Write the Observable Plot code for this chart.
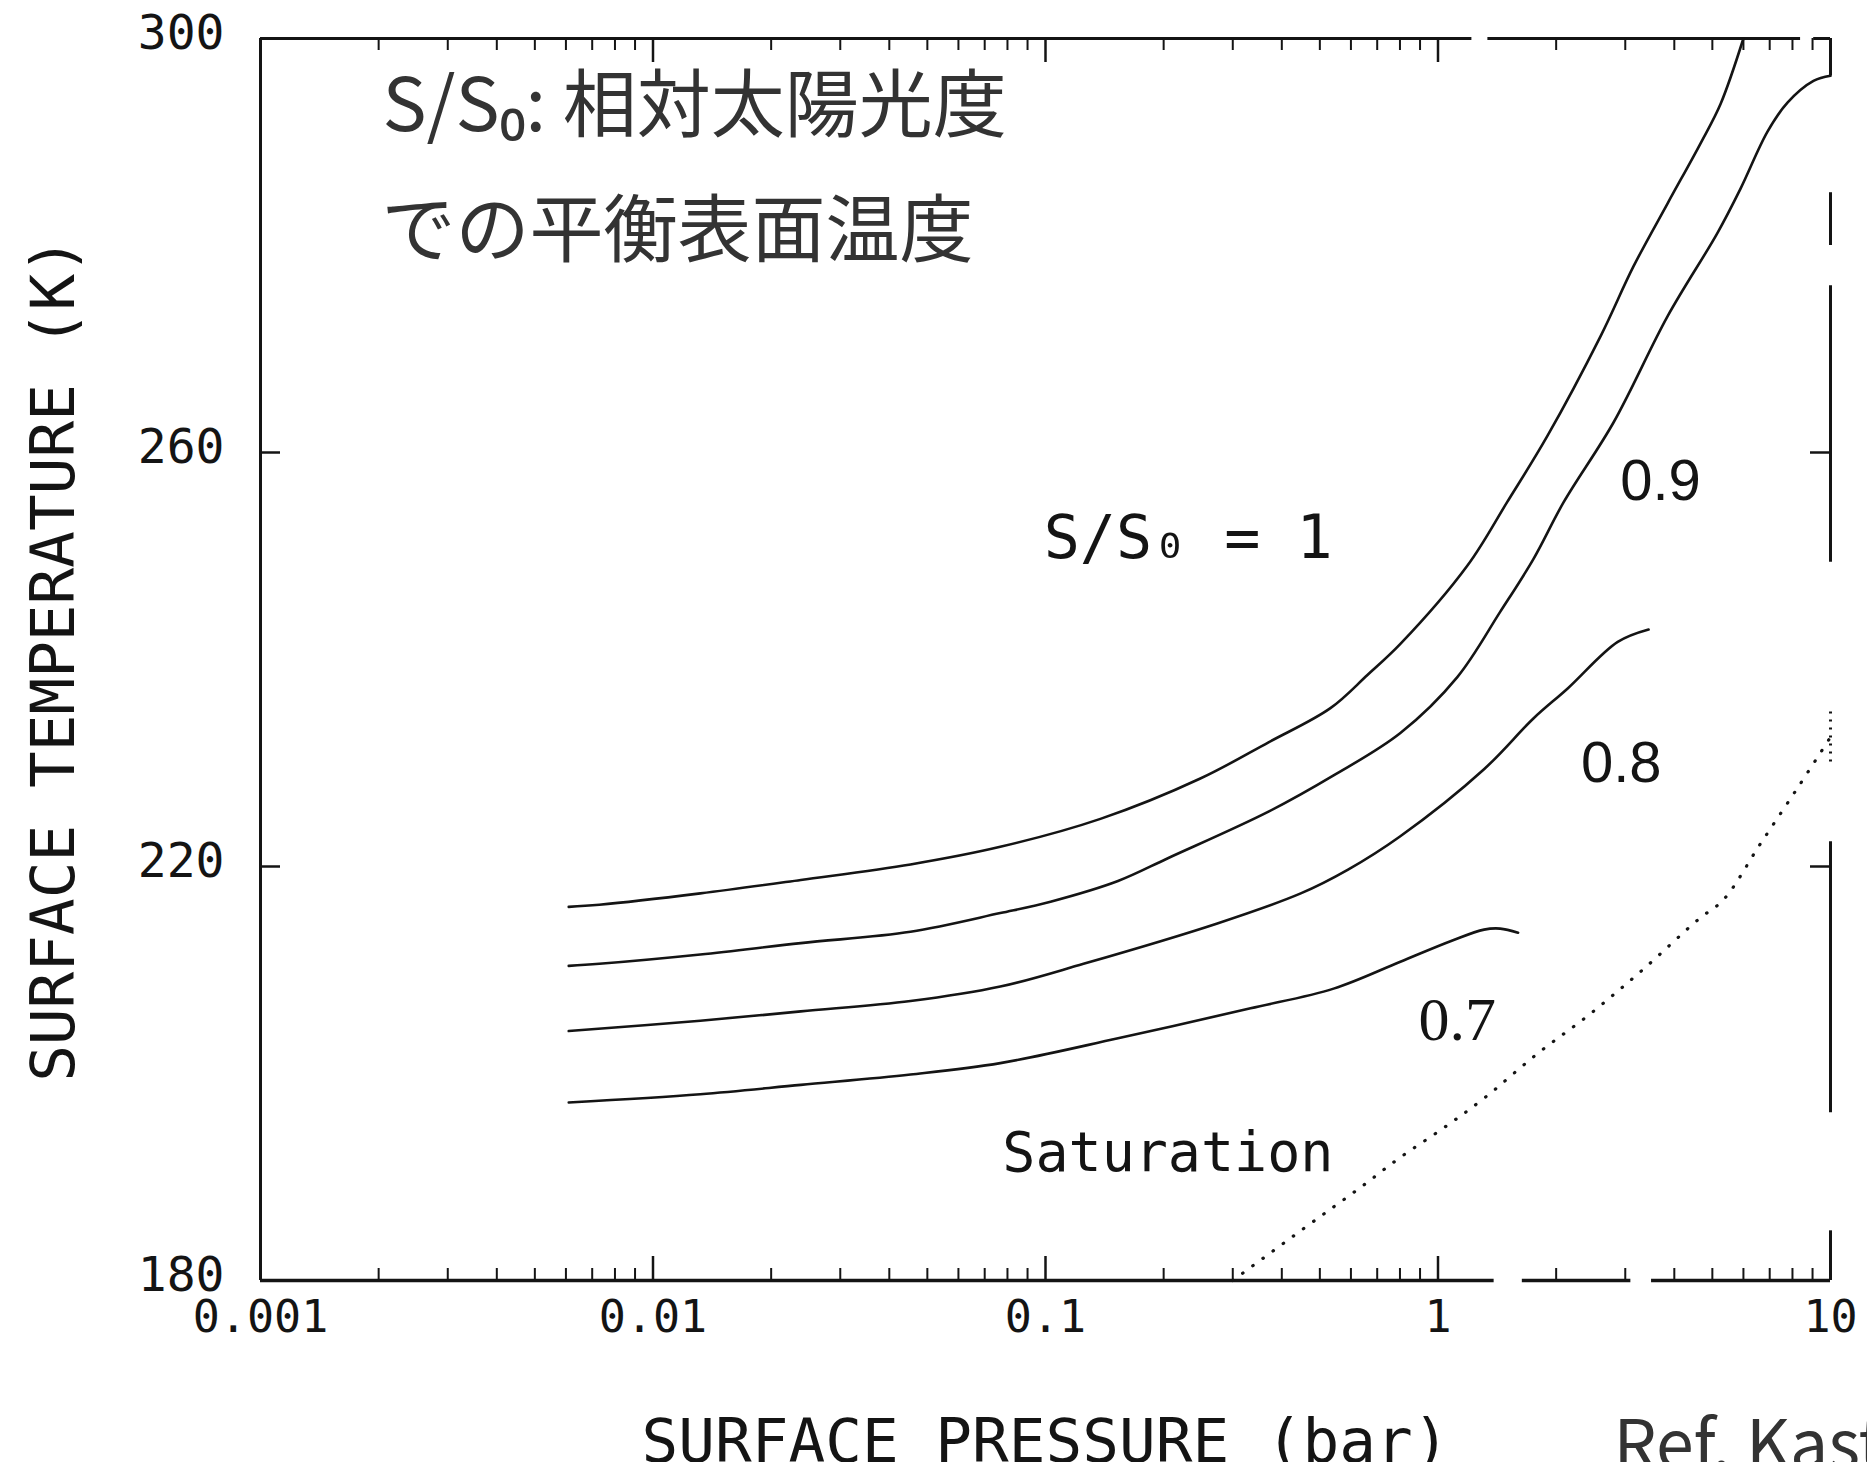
<!DOCTYPE html>
<html>
<head>
<meta charset="utf-8">
<script src="https://cdn.jsdelivr.net/npm/d3@7"></script>
<script src="https://cdn.jsdelivr.net/npm/@observablehq/plot@0.6"></script>
<style>
  html, body { margin: 0; padding: 0; background: #fff; overflow: hidden; }
  svg { display: block; }
</style>
</head>
<body>
<script>
// Relative solar luminosity S/S0 for each equilibrium curve
const solarLevels = [1, 0.9, 0.8, 0.7];

// Surface pressure (bar) and equilibrium surface temperature (K) along each curve
const pressureS10 = [0.0061, 0.0073, 0.0132, 0.0238, 0.0453, 0.0767, 0.138, 0.248, 0.37, 0.532, 0.661, 0.802, 1.19, 1.50, 1.90, 2.60, 3.15, 3.85, 4.67, 5.25, 6.0];
const tempS10     = [216.1, 216.3, 217.4, 218.7, 220.2, 221.9, 224.6, 228.5, 232.0, 235.3, 238.5, 241.5, 249.1, 255.2, 261.6, 271.3, 278.0, 284.1, 289.9, 293.7, 300.0];

const pressureS09 = [0.0061, 0.0073, 0.0132, 0.0238, 0.0453, 0.0767, 0.103, 0.153, 0.205, 0.37, 0.542, 0.802, 1.12, 1.44, 1.75, 2.09, 2.80, 3.85, 5.15, 5.90, 6.91, 7.77, 9.05, 10];
const tempS09     = [210.4, 210.6, 211.5, 212.6, 213.7, 215.5, 216.6, 218.6, 220.8, 225.3, 228.8, 232.9, 238.3, 244.6, 249.7, 255.2, 262.9, 273.2, 281.2, 285.5, 291.0, 293.8, 295.9, 296.4];

const pressureS08 = [0.0061, 0.0132, 0.0238, 0.0453, 0.0767, 0.125, 0.274, 0.447, 0.59, 0.80, 1.31, 1.75, 2.14, 2.87, 3.44];
const tempS08     = [204.1, 205.1, 206.0, 207.0, 208.4, 210.6, 214.5, 217.4, 219.7, 222.9, 229.4, 234.3, 237.2, 241.7, 242.9];

const pressureS07 = [0.0061, 0.0132, 0.0238, 0.0453, 0.0767, 0.153, 0.333, 0.542, 0.802, 1.08, 1.31, 1.44, 1.60];
const tempS07     = [197.2, 198.0, 198.9, 199.9, 201.0, 203.4, 206.3, 208.2, 210.8, 212.8, 213.9, 214.0, 213.6];

// CO2 saturation (condensation) curve
const saturationPressure = [0.30, 0.454, 0.635, 0.802, 1.03, 1.31, 1.79, 2.45, 3.34, 4.61, 5.34, 6.63, 8.28, 10];
const saturationTemp     = [180, 185.0, 189.0, 191.9, 194.7, 197.6, 201.9, 205.8, 210.1, 214.9, 216.8, 222.2, 227.7, 232.5];

// Axis ticks
const xTickValues = [0.001, 0.01, 0.1, 1, 10];
const yTickValues = [180, 220, 260, 300];

// Where each curve's S/S0 value is written
const curveLabelPressure = [0.231, 3.69, 2.93, 1.12];
const curveLabelTemp     = [251.7, 257.2, 230.0, 205.2];

// ---------------------------------------------------------------------------
const pressures = [pressureS10, pressureS09, pressureS08, pressureS07];
const temps = [tempS10, tempS09, tempS08, tempS07];

const curves = solarLevels.flatMap((s, i) =>
  pressures[i].map((p, j) => ({s, p, t: temps[i][j]}))
);
const saturation = saturationPressure.map((p, j) => ({p, t: saturationTemp[j]}));
const curveLabels = solarLevels.map((s, i) => ({
  s, p: curveLabelPressure[i], t: curveLabelTemp[i],
  text: s === 1 ? "S/S\u2080 = 1" : String(s)
}));

// log-decade minor ticks (2..9 within each decade)
const majorInner = xTickValues.slice(1, -1);
const minorInner = xTickValues.slice(0, -1).flatMap(d => d3.range(2, 10).map(k => d * k));
const yInner = yTickValues.slice(1, -1);

const width = 1867, height = 1462;
const margin = {left: 260, right: 37, top: 38, bottom: 182};
const frameW = width - margin.left - margin.right;
const frameH = height - margin.top - margin.bottom;

const ink = "#141414";
const mono = "'DejaVu Sans Mono', monospace";
const jp = "'Noto Sans CJK JP', 'Noto Sans', sans-serif";

// Scanned plot frame: short breaks along the bottom, top and right edges
const bottomEdge = [[0.001, 1.39], [1.64, 3.1], [3.5, 10]];
const topEdge = [[0.001, 1.22], [1.34, 8.39], [9.06, 10]];
const rightEdge = [[296.4, 300], [280.0, 285.1], [249.4, 276.1], [196.2, 222.4], [180, 184.8]];
const rightEdgeDotted = [[230.1, 235.4]];

const chart = Plot.plot({
  width, height,
  marginLeft: margin.left, marginRight: margin.right,
  marginTop: margin.top, marginBottom: margin.bottom,
  x: {type: "log", domain: [0.001, 10]},
  y: {domain: [180, 300]},
  style: {fontFamily: mono, background: "#fff", color: ink, overflow: "visible"},
  marks: [
    // frame
    Plot.ruleX([0.001], {y1: 180, y2: 300, stroke: ink, strokeWidth: 3}),
    Plot.ruleY(bottomEdge, {y: () => 180, x1: d => d[0], x2: d => d[1], stroke: ink, strokeWidth: 3.5}),
    Plot.ruleY(topEdge, {y: () => 300, x1: d => d[0], x2: d => d[1], stroke: ink, strokeWidth: 3}),
    Plot.ruleX(rightEdge, {x: () => 10, y1: d => d[0], y2: d => d[1], stroke: ink, strokeWidth: 3}),
    Plot.ruleX(rightEdgeDotted, {x: () => 10, y1: d => d[0], y2: d => d[1], stroke: ink, strokeWidth: 3, strokeDasharray: "2 6"}),

    // inward ticks: bottom, top, left, right
    Plot.tickX(majorInner, {x: d => d, insetTop: frameH - 24, stroke: ink, strokeWidth: 2.5}),
    Plot.tickX(minorInner, {x: d => d, insetTop: frameH - 12, stroke: ink, strokeWidth: 2}),
    Plot.tickX(majorInner, {x: d => d, insetBottom: frameH - 24, stroke: ink, strokeWidth: 2.5}),
    Plot.tickX(minorInner, {x: d => d, insetBottom: frameH - 12, stroke: ink, strokeWidth: 2}),
    Plot.tickY(yInner, {y: d => d, insetRight: frameW - 20, stroke: ink, strokeWidth: 2.5}),
    Plot.tickY(yInner, {y: d => d, insetLeft: frameW - 20, stroke: ink, strokeWidth: 2.5}),

    // tick labels
    Plot.axisX({ticks: xTickValues, tickSize: 0, tickPadding: 20, tickFormat: d => String(d),
      label: null, fontSize: 45, fontFamily: mono, fill: ink}),
    Plot.axisY({ticks: yTickValues, tickSize: 0, tickPadding: 36, tickFormat: d => String(d),
      label: null, fontSize: 48, fontFamily: mono, fill: ink, dy: -5}),

    // axis titles
    Plot.text(["SURFACE TEMPERATURE (K)"], {frameAnchor: "left", dx: -206, rotate: -90,
      fontSize: 61, fontFamily: mono, fill: ink, textAnchor: "middle", lineAnchor: "middle"}),
    Plot.text(["SURFACE PRESSURE (bar)"], {frameAnchor: "bottom", dy: 181,
      fontSize: 61, fontFamily: mono, fill: ink, textAnchor: "middle", lineAnchor: "bottom"}),

    // equilibrium curves
    Plot.line(curves, {x: "p", y: "t", z: "s", stroke: ink, strokeWidth: 2.6, curve: "catmull-rom"}),

    // saturation curve (dotted)
    Plot.line(saturation, {x: "p", y: "t", stroke: ink, strokeWidth: 3.2, strokeDasharray: "0.5 12",
      strokeLinecap: "round", curve: "catmull-rom"}),

    // curve labels
    Plot.text(curveLabels.filter(d => d.s === 1), {x: "p", y: "t", text: "text",
      fontSize: 60, fontFamily: mono, fill: ink, textAnchor: "middle", lineAnchor: "middle"}),
    Plot.text(curveLabels.filter(d => d.s === 0.9 || d.s === 0.8), {x: "p", y: "t", text: "text",
      fontSize: 58, fontFamily: "'Liberation Sans', Arial, sans-serif", fill: ink, textAnchor: "middle", lineAnchor: "middle"}),
    Plot.text(curveLabels.filter(d => d.s === 0.7), {x: "p", y: "t", text: "text",
      fontSize: 62, fontFamily: "'Liberation Serif', serif", fill: ink, textAnchor: "middle", lineAnchor: "middle"}),
    Plot.text(["Saturation"], {x: () => 0.205, y: () => 192.3, fontSize: 55, fontFamily: mono,
      fill: ink, textAnchor: "middle", lineAnchor: "middle"}),

    // explanatory note
    Plot.text(["S/S\u2080: 相対太陽光度"], {frameAnchor: "top-left", dx: 122, dy: 69,
      fontSize: 74, fontFamily: jp, fill: "#333", textAnchor: "start", lineAnchor: "middle"}),
    Plot.text(["での平衡表面温度"], {frameAnchor: "top-left", dx: 121, dy: 194,
      fontSize: 74, fontFamily: jp, fill: "#333", textAnchor: "start", lineAnchor: "middle"}),

    // reference
    Plot.text(["Ref. Kasting (1991)"], {frameAnchor: "bottom-left", dx: 1353, dy: 188,
      fontSize: 68, fontFamily: jp, fill: "#333", textAnchor: "start", lineAnchor: "bottom"})
  ]
});

document.body.appendChild(chart);
</script>
</body>
</html>
